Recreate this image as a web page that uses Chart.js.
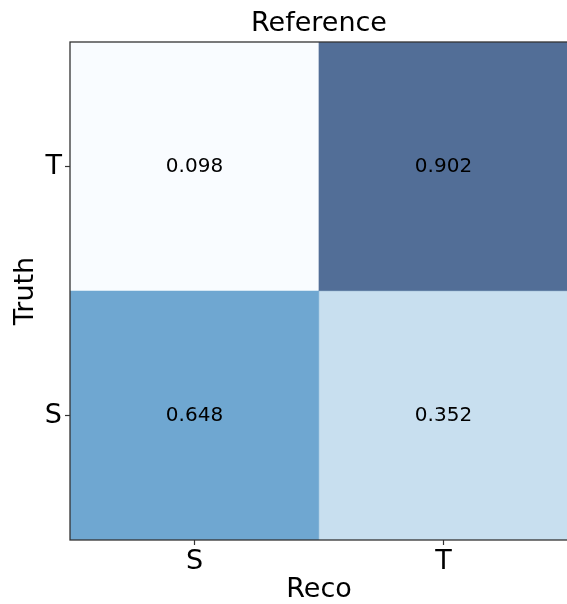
<!DOCTYPE html>
<html>
<head>
<meta charset="utf-8">
<script src="https://cdn.jsdelivr.net/npm/chart.js@4/dist/chart.umd.min.js"></script>
<style>
  html, body { margin: 0; padding: 0; background: #fff; overflow: hidden; }
  #wrap { width: 600px; height: 604px; }
</style>
</head>
<body>
<div id="wrap"><canvas id="cm" width="600" height="604"></canvas></div>
<script>
// Confusion matrix: rows are the true class, columns the reconstructed class
const recoLabels = ['S', 'T'];
const truthLabels = ['S', 'T'];
const truthS = [0.648, 0.352];
const truthT = [0.098, 0.902];
const chartTitle = 'Reference';
const xTitle = 'Reco';
const yTitle = 'Truth';

const rows = [truthS, truthT];
const allVals = rows.flat();
const vMin = Math.min(...allVals);
const vMax = Math.max(...allVals);

// "Blues" colormap anchors
const BLUES = [
  [247, 251, 255], [222, 235, 247], [198, 219, 239], [158, 202, 225],
  [107, 174, 214], [66, 146, 198], [33, 113, 181], [8, 81, 156], [8, 48, 107]
];
function blues(t) {
  t = Math.max(0, Math.min(1, t));
  const pos = t * (BLUES.length - 1);
  const i = Math.min(Math.floor(pos), BLUES.length - 2);
  const f = pos - i;
  return BLUES[i].map((c, k) => Math.round(c + (BLUES[i + 1][k] - c) * f));
}
function cellColor(v) {
  const [r, g, b] = blues((v - vMin) / (vMax - vMin));
  return `rgba(${r},${g},${b},0.7)`;
}

const FONT = '"DejaVu Sans", sans-serif';

const datasets = rows.map((vals, r) => ({
  label: truthLabels[r],
  data: vals.map((v, c) => ({ x: recoLabels[c], y: [r, r + 1], v: v })),
  backgroundColor: vals.map(cellColor),
  borderWidth: 0,
  borderSkipped: false,
  barPercentage: 1,
  categoryPercentage: 1,
  grouped: false
}));

// value printed in the middle of each cell
const cellText = {
  id: 'cellText',
  afterDatasetsDraw(chart) {
    const ctx = chart.ctx;
    ctx.save();
    ctx.font = '20px ' + FONT;
    ctx.fillStyle = '#000';
    ctx.textAlign = 'center';
    ctx.textBaseline = 'middle';
    chart.data.datasets.forEach((ds, i) => {
      chart.getDatasetMeta(i).data.forEach((bar, j) => {
        const p = bar.getProps(['x', 'y', 'base'], true);
        ctx.fillText(ds.data[j].v.toFixed(3), p.x, (p.y + p.base) / 2);
      });
    });
    ctx.restore();
  }
};

// box around the plotting area
const frame = {
  id: 'frame',
  afterDraw(chart) {
    const a = chart.chartArea;
    const ctx = chart.ctx;
    ctx.save();
    ctx.strokeStyle = '#333';
    ctx.lineWidth = 1.3;
    ctx.strokeRect(a.left, a.top, a.right - a.left, a.bottom - a.top);
    ctx.restore();
  }
};

const tickGrid = {
  display: true,
  drawOnChartArea: false,
  drawTicks: true,
  tickLength: 5,
  tickWidth: 1.2,
  color: '#333',
  offset: false
};

new Chart(document.getElementById('cm'), {
  type: 'bar',
  data: { labels: recoLabels, datasets: datasets },
  options: {
    responsive: false,
    animation: false,
    devicePixelRatio: 1,
    layout: { padding: { left: 0, right: 32, top: 0, bottom: 0 } },
    plugins: {
      legend: { display: false },
      tooltip: { enabled: false },
      title: {
        display: true,
        fullSize: false,
        text: chartTitle,
        color: '#000',
        font: { family: FONT, size: 27, weight: 'normal' },
        padding: { top: 7.5, bottom: 2.1 }
      }
    },
    scales: {
      x: {
        type: 'category',
        labels: recoLabels,
        offset: true,
        grid: tickGrid,
        border: { display: false },
        ticks: { color: '#000', font: { family: FONT, size: 27 }, padding: 1, maxRotation: 0 },
        title: { display: true, text: xTitle, color: '#000', font: { family: FONT, size: 27 }, padding: { top: 0, bottom: -2 } },
        afterFit(scale) { scale.height = 64; }
      },
      y: {
        type: 'linear',
        min: 0,
        max: truthLabels.length,
        grid: tickGrid,
        border: { display: false },
        afterBuildTicks(scale) {
          scale.ticks = truthLabels.map((_, i) => ({ value: i + 0.5 }));
        },
        ticks: {
          color: '#000',
          font: { family: FONT, size: 27 },
          padding: 3,
          callback: (v) => truthLabels[Math.floor(v)]
        },
        title: { display: true, text: yTitle, color: '#000', font: { family: FONT, size: 27 }, padding: { top: 10, bottom: 0 } },
        afterFit(scale) { scale.width = 70; }
      }
    }
  },
  plugins: [cellText, frame]
});
</script>
</body>
</html>
